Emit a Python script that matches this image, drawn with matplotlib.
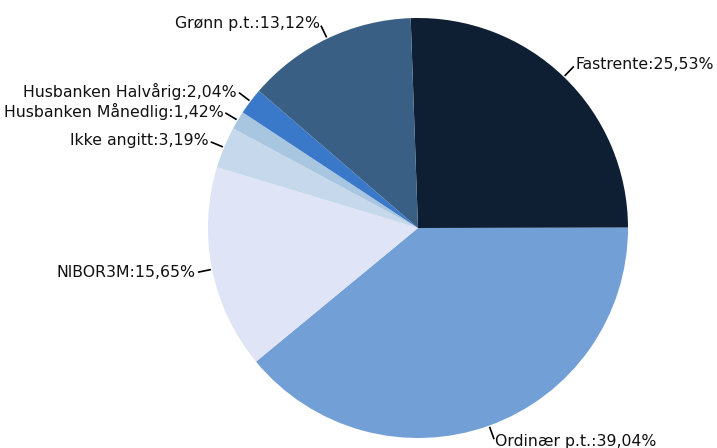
import numpy as np
import matplotlib
matplotlib.use('Agg')
import matplotlib.pyplot as plt

# Slice names and shares (percent), in clockwise order from the top
names = ['Fastrente', 'Ordinær p.t.', 'NIBOR3M', 'Ikke angitt',
         'Husbanken Månedlig', 'Husbanken Halvårig', 'Grønn p.t.']
shares = [25.53, 39.04, 15.65, 3.19, 1.42, 2.04, 13.12]
colors = ['#0f1f33', '#729fd6', '#e0e4f7', '#c6d9ec',
          '#a9c6e0', '#3a78c9', '#3a5f85']

fig = plt.figure(figsize=(7.17, 4.48), dpi=100)
ax = fig.add_axes([208 / 717, 10 / 448, 420 / 717, 420 / 448])

wedges, _ = ax.pie(shares, colors=colors, startangle=92, counterclock=False,
                   radius=1.0, wedgeprops=dict(linewidth=0))
ax.set_xlim(-1, 1)
ax.set_ylim(-1, 1)
ax.set_aspect('equal')
ax.axis('off')

# Labels with short leader lines just outside the pie
for w, name, v in zip(wedges, names, shares):
    ang = np.radians((w.theta1 + w.theta2) / 2)
    c, s = np.cos(ang), np.sin(ang)
    ax.plot([1.01 * c, 1.065 * c], [1.01 * s, 1.065 * s], color='black',
            lw=1.2, clip_on=False)
    pct = f'{v:.2f}'.replace('.', ',')
    ax.text(1.08 * c, 1.08 * s, f'{name}:{pct}%', ha='left' if c > 0 else 'right',
            va='center', fontsize=11.3, color='#111111')

fig.savefig('out.png', dpi=100)
